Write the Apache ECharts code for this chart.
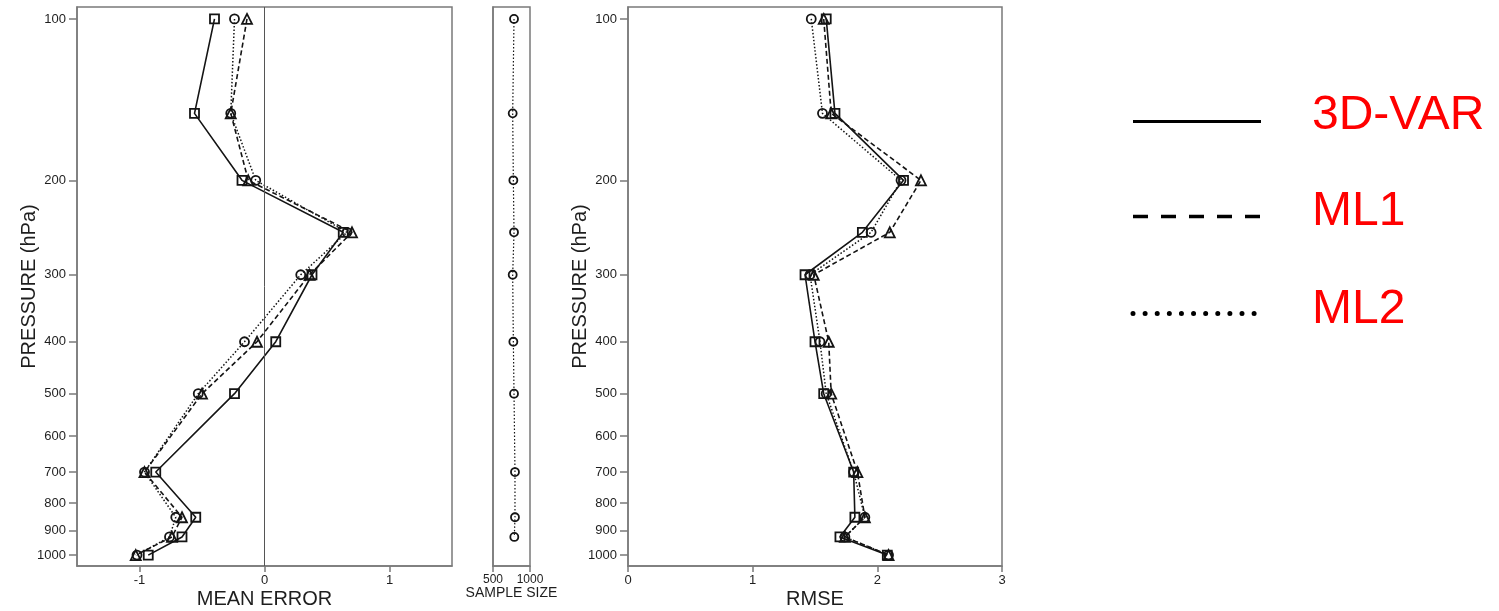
<!DOCTYPE html>
<html>
<head>
<meta charset="utf-8">
<script src="https://cdn.jsdelivr.net/npm/echarts@6/dist/echarts.min.js"></script>
<style>
html,body{margin:0;padding:0;background:#fff;}
#c{width:1499px;height:611px;}
</style>
</head>
<body>
<div id="c"></div>
<script>
// Pressure levels (hPa)
const levels = [100, 150, 200, 250, 300, 400, 500, 700, 850, 925, 1000];
const pressureTicks = [100, 200, 300, 400, 500, 600, 700, 800, 900, 1000];

// Mean error
const meVAR = [-0.40, -0.56, -0.18, 0.63, 0.38, 0.09, -0.24, -0.87, -0.55, -0.66, -0.93];
const meML1 = [-0.14, -0.27, -0.13, 0.70, 0.36, -0.06, -0.50, -0.96, -0.66, -0.74, -1.03];
const meML2 = [-0.24, -0.27, -0.07, 0.66, 0.29, -0.16, -0.53, -0.96, -0.71, -0.76, -1.02];

// RMSE
const rmVAR = [1.59, 1.66, 2.21, 1.88, 1.42, 1.50, 1.57, 1.81, 1.82, 1.70, 2.08];
const rmML1 = [1.57, 1.63, 2.35, 2.10, 1.49, 1.61, 1.63, 1.84, 1.90, 1.74, 2.09];
const rmML2 = [1.47, 1.56, 2.19, 1.95, 1.46, 1.54, 1.59, 1.81, 1.90, 1.74, 2.09];

// Sample size (no value at 1000 hPa)
const sampleLevels = [100, 150, 200, 250, 300, 400, 500, 700, 850, 925];
const sampleSize = [784, 766, 775, 784, 766, 775, 784, 797, 797, 788];

const legendNames = ['3D-VAR', 'ML1', 'ML2'];

const pair = (xs, ys) => xs.map((v, i) => [v, ys[i]]);

const FONT = 'Liberation Sans, Arial, sans-serif';
const frameColor = '#7a7a7a';
const lineColor = '#141414';
const textColor = '#1e1e1e';
const plain = v => String(v);

function yAxisDef(gridIndex, showLabels, name) {
  return {
    gridIndex: gridIndex,
    type: 'log',
    inverse: true,
    min: 95,
    max: 1048,
    name: name || '',
    nameLocation: 'middle',
    nameGap: 38,
    nameRotate: 90,
    nameMoveOverlap: false,
    nameTextStyle: {fontFamily: FONT, fontSize: 20, color: textColor},
    axisLine: {show: true, onZero: false, lineStyle: {color: frameColor, width: 1.5}},
    axisTick: {show: showLabels, length: 8, lineStyle: {color: frameColor, width: 1.5}, customValues: pressureTicks},
    axisLabel: {show: showLabels, customValues: pressureTicks, formatter: plain, fontFamily: FONT, fontSize: 13, color: textColor, margin: 11},
    splitLine: {show: false},
    minorTick: {show: false}
  };
}

function xAxisDef(gridIndex, min, max, ticks, name, nameSize, labelSize, gap) {
  return {
    gridIndex: gridIndex,
    type: 'value',
    min: min,
    max: max,
    name: name,
    nameLocation: 'middle',
    nameGap: gap,
    nameMoveOverlap: false,
    nameTextStyle: {fontFamily: FONT, fontSize: nameSize, color: textColor},
    axisLine: {show: true, onZero: false, lineStyle: {color: frameColor, width: 1.5}},
    axisTick: {show: true, length: 6, customValues: ticks, lineStyle: {color: frameColor, width: 1.5}},
    axisLabel: {customValues: ticks, formatter: plain, fontFamily: FONT, fontSize: labelSize, color: textColor, margin: 8},
    splitLine: {show: false}
  };
}

function lineSeries(name, xi, yi, data, symbol, size, dash, width) {
  return {
    name: name,
    type: 'line',
    xAxisIndex: xi,
    yAxisIndex: yi,
    data: data,
    symbol: symbol,
    symbolSize: size,
    showSymbol: true,
    animation: false,
    lineStyle: {color: lineColor, width: width, type: dash},
    itemStyle: {color: 'rgba(255,255,255,0)', borderColor: lineColor, borderWidth: 1.8},
    z: 3
  };
}

const gridBase = {top: 7, height: 559, show: true, borderColor: frameColor, borderWidth: 1.5, containLabel: false, outerBoundsMode: 'none'};

const option = {
  backgroundColor: '#fff',
  animation: false,
  grid: [
    Object.assign({left: 77, width: 375}, gridBase),
    Object.assign({left: 493, width: 37}, gridBase),
    Object.assign({left: 628, width: 374}, gridBase)
  ],
  xAxis: [
    xAxisDef(0, -1.5, 1.5, [-1, 0, 1], 'MEAN ERROR', 20, 13, 23),
    xAxisDef(1, 500, 1000, [500, 1000], 'SAMPLE SIZE', 14, 12, 20),
    xAxisDef(2, 0, 3, [0, 1, 2, 3], 'RMSE', 20, 13, 23)
  ],
  yAxis: [
    yAxisDef(0, true, 'PRESSURE (hPa)'),
    yAxisDef(1, false, ''),
    yAxisDef(2, true, 'PRESSURE (hPa)')
  ],
  series: [
    Object.assign(lineSeries(legendNames[0], 0, 0, pair(meVAR, levels), 'rect', 9, 'solid', 1.6), {
      markLine: {
        silent: true, symbol: 'none', animation: false,
        label: {show: false},
        lineStyle: {color: '#555', width: 1, type: 'solid'},
        data: [{xAxis: 0}]
      }
    }),
    lineSeries(legendNames[1], 0, 0, pair(meML1, levels), 'triangle', 10, [5, 3], 1.6),
    lineSeries(legendNames[2], 0, 0, pair(meML2, levels), 'circle', 9, [1.5, 2], 1.5),
    lineSeries('sample', 1, 1, pair(sampleSize, sampleLevels), 'circle', 8, [1.5, 2], 1.2),
    lineSeries(legendNames[0], 2, 2, pair(rmVAR, levels), 'rect', 9, 'solid', 1.6),
    lineSeries(legendNames[1], 2, 2, pair(rmML1, levels), 'triangle', 10, [5, 3], 1.6),
    lineSeries(legendNames[2], 2, 2, pair(rmML2, levels), 'circle', 9, [1.5, 2], 1.5)
  ],
  graphic: [
    {type: 'line', shape: {x1: 1133, y1: 121.5, x2: 1261, y2: 121.5}, style: {stroke: '#000', lineWidth: 3}},
    {type: 'line', shape: {x1: 1133, y1: 216.5, x2: 1261, y2: 216.5}, style: {stroke: '#000', lineWidth: 3.5, lineDash: [15, 13]}},
    {type: 'line', shape: {x1: 1133, y1: 313.5, x2: 1255, y2: 313.5}, style: {stroke: '#000', lineWidth: 5, lineCap: 'round', lineDash: [0.01, 12.1]}},
    {type: 'text', left: 1312, top: 92, style: {text: legendNames[0], fill: '#ff0000', font: '48px ' + FONT}},
    {type: 'text', left: 1312, top: 188, style: {text: legendNames[1], fill: '#ff0000', font: '48px ' + FONT}},
    {type: 'text', left: 1312, top: 286, style: {text: legendNames[2], fill: '#ff0000', font: '48px ' + FONT}}
  ]
};

const chart = echarts.init(document.getElementById('c'), null, {renderer: 'canvas'});
chart.setOption(option);
</script>
</body>
</html>
